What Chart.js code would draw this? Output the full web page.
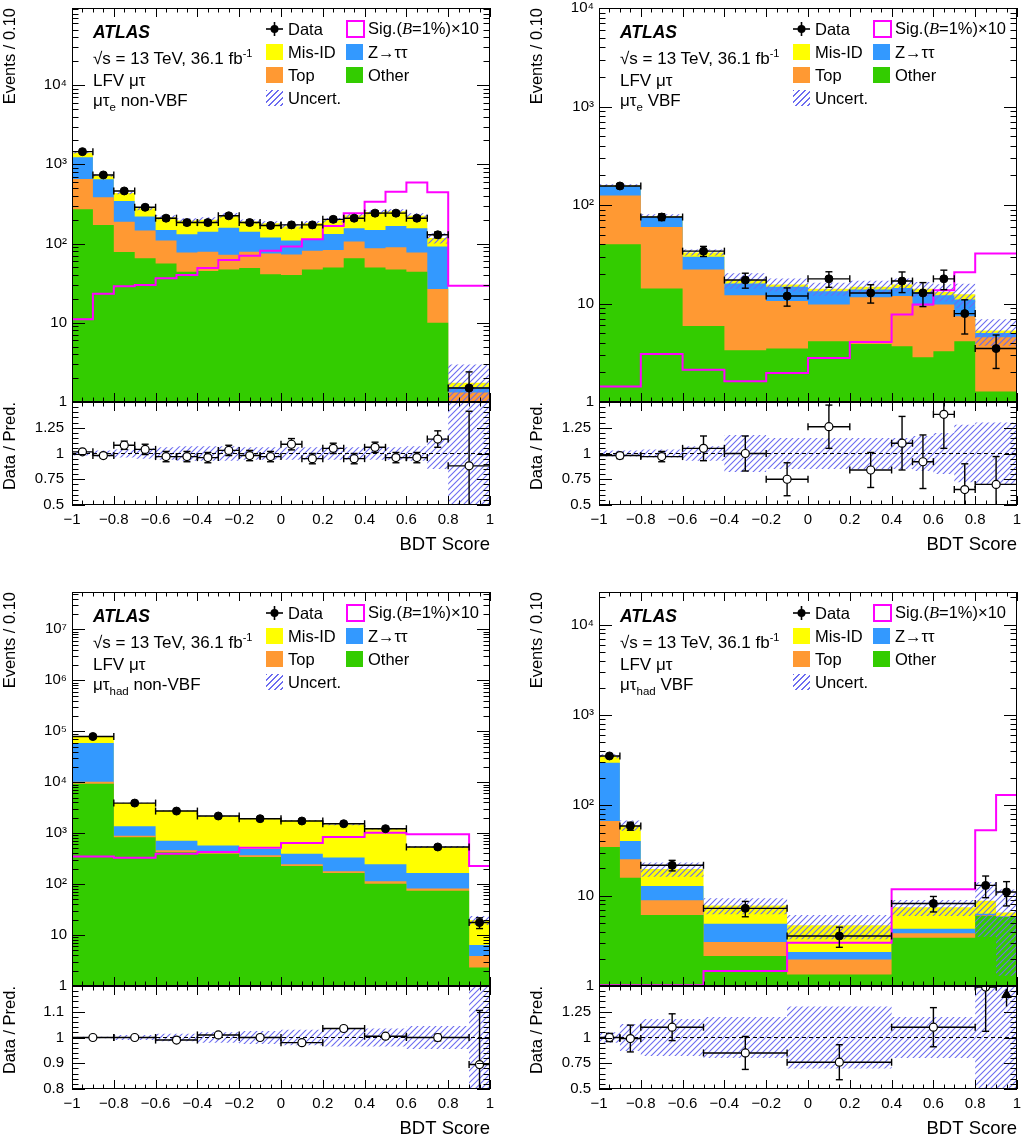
<!DOCTYPE html>
<html>
<head>
<meta charset="utf-8">
<script src="https://cdn.jsdelivr.net/npm/chart.js@4.4.0/dist/chart.umd.min.js"></script>
<style>
body { margin: 0; background: #fff; font-family: "Liberation Sans", Arial, Helvetica, sans-serif; }
#page { position: relative; width: 1021px; height: 1139px; overflow: hidden; background: #fff; }
canvas { position: absolute; }
.txt { position: absolute; white-space: nowrap; color: #000; line-height: 1; transform: translateY(-50%); font-size: 16.5px; }
.info { font-size: 17px; }
.atlas { font-weight: bold; font-style: italic; font-size: 17.5px; }
.sw { position: absolute; width: 17px; height: 16px; transform: translateY(-50%); box-sizing: border-box; }
sub { font-size: 11.5px; vertical-align: -5px; }
sup { font-size: 11px; vertical-align: 7px; }
</style>
</head>
<body>
<div id="page"></div>
<script>
// axes
const xTicks = [-1, -0.8, -0.6, -0.4, -0.2, 0, 0.2, 0.4, 0.6, 0.8, 1];
const decadeLabels = ['1', '10', '10²', '10³', '10⁴', '10⁵', '10⁶', '10⁷'];

// mu tau_e non-VBF
const edgesA = [-1,-0.9,-0.8,-0.7,-0.6,-0.5,-0.4,-0.3,-0.2,-0.1,0,0.1,0.2,0.3,0.4,0.5,0.6,0.7,0.8,1];
const otherA = [270,172,78,65,56,44,45,47,49,41,40,47,50,65,50,47,44,10,0.5];
const topA   = [383,213,111,81,53,33,34,25,30,34,33,34,33,41,37,43,33,16.6,0.82];
const zttA   = [577,265,155,73,39,54,62,86,62,44,36,30,49,50,61,77,79,65,0.21];
const misidA = [170,70,91,59,66,64,59,69,49,61,56,71,66,72,102,88,69,26,0.22];
const sigA   = [11.1,23.2,29,30,36.6,40,49,62,70,81,92,113,167,241,338,452,588,444,29.3];
const dataA  = [1445,734,461,287,209,184,184,224,184,169,172,172,202,209,242,242,209,129,1.5];
const dataErrA = [38,27,21,17,14,14,14,15,14,13,13,13,14,14,16,16,14,11,0.9];
const ratioA = [1.016,0.98,1.08,1.04,0.97,0.97,0.96,1.03,0.98,0.97,1.09,0.95,1.05,0.95,1.06,0.96,0.96,1.14,0.88];
const ratioErrA = [0.015,0.025,0.04,0.05,0.05,0.05,0.05,0.05,0.05,0.05,0.055,0.05,0.05,0.05,0.05,0.05,0.05,0.08,0.53];
const uncA = [0.02,0.03,0.04,0.05,0.06,0.07,0.07,0.07,0.06,0.06,0.06,0.06,0.06,0.06,0.06,0.06,0.07,0.15,0.7];
const yTicksA = [1, 10, 100, 1000, 10000];
const rTicksA = [0.5, 0.75, 1, 1.25];

// mu tau_e VBF
const edgesB = [-1,-0.8,-0.6,-0.4,-0.2,0,0.2,0.4,0.5,0.6,0.7,0.8,1];
const otherB = [40,14.2,5.9,3.35,3.49,4.14,3.89,3.68,2.85,3.27,4.14,1.28];
const topB   = [85,45.5,16.3,8.75,7.11,5.63,7.71,8.22,6.7,6.5,3.29,3.27];
const zttB   = [30,16.3,7.6,3.9,4.2,3.53,2.3,2.5,3.45,2.33,3.57,0.48];
const misidB = [3,1.5,3.2,1.2,0.8,0.8,0.9,1.2,1.1,1.0,1.4,0.28];
const sigB   = [1.44,3.08,2.13,1.62,1.97,2.8,4.07,7.73,9.77,13.6,20.8,32.2];
const dataB  = [156,75.5,34,17.3,11.9,17.8,12.8,16.9,12.8,17.8,7.9,3.49];
const dataErrB = [9,6,4,3,2.5,3.2,2.7,4,3.5,4,3,1.3];
const ratioB = [0.98,0.97,1.05,1.0,0.75,1.26,0.84,1.1,0.92,1.38,0.65,0.7];
const ratioErrB = [0.03,0.05,0.12,0.17,0.16,0.21,0.17,0.26,0.26,0.33,0.25,0.27];
const uncB = [0.03,0.04,0.07,0.18,0.15,0.15,0.15,0.15,0.17,0.2,0.28,0.3];
const yTicksB = [1, 10, 100, 1000, 10000];
const rTicksB = [0.5, 0.75, 1, 1.25];

// mu tau_had non-VBF
const edgesC = [-1,-0.8,-0.6,-0.4,-0.2,0,0.2,0.4,0.6,0.9,1];
const otherC = [9300,828,421,396,341,227,166,102,74,2.32];
const topC   = [880,62,39,31,26,18,13,12,8,1.55];
const zttC   = [48800,470,252,142,122,151,152,131,84,2.48];
const misidC = [19700,2530,2025,1580,1430,1365,1150,970,370,13.35];
const sigC   = [347,330,396,427,519,641,840,1020,947,227];
const dataC  = [78700,3890,2710,2170,1920,1730,1530,1222,535,17.6];
const dataErrC = [280,140,115,100,100,90,85,80,42,4.2];
const ratioC = [1.0,1.0,0.99,1.01,1.0,0.98,1.035,1.005,1.0,0.895];
const ratioErrC = [0.003,0.005,0.007,0.007,0.008,0.008,0.009,0.01,0.013,0.21];
const uncC = [0.003,0.01,0.015,0.02,0.025,0.03,0.035,0.035,0.045,0.2];
const yTicksC = [1, 10, 100, 1000, 1e4, 1e5, 1e6, 1e7];
const rTicksC = [0.8, 0.9, 1, 1.1];

// mu tau_had VBF
const edgesD = [-1,-0.9,-0.8,-0.5,-0.1,0.4,0.8,0.9,1];
const otherD = [34.6,15.8,6.1,2.15,1.34,3.43,6.0,5.8];
const topD   = [32.4,9.5,2.78,0.92,0.63,0.4,0.1,0.05];
const zttD   = [230,15,3.92,1.83,0.41,0.47,0.2,0.05];
const misidD = [53,19.7,6.9,2.9,2.32,3.15,2.5,0.6];
const sigD   = [1.02,1.02,1.02,1.47,3.02,11.8,53,130];
const dataD  = [352,59,21.7,7.24,3.58,8.2,13.0,11.0];
const dataErrD = [19,6,2.9,1.4,0.9,1.6,3.5,3.3];
const ratioD = [1.0,0.99,1.1,0.85,0.76,1.1,1.49,1.9];
const ratioErrD = [0.04,0.13,0.13,0.16,0.17,0.19,0.43,0];
const uncD = [0.05,0.13,0.18,0.2,0.3,0.2,0.6,0.8];
const yTicksD = [1, 10, 100, 1000, 10000];
const rTicksD = [0.5, 0.75, 1, 1.25];

const COL = { misid: '#ffff00', ztt: '#3399ff', top: '#ff9933', other: '#33cc00', sig: '#ff00ff', unc: '#6c6cf0' };

const panels = [
  { x: 0, y: 0, w: 500, edges: edgesA, other: otherA, top: topA, ztt: zttA, misid: misidA, sig: sigA, data: dataA, dataErr: dataErrA,
    ratio: ratioA, ratioErr: ratioErrA, unc: uncA, yMax: 9.4e4, yTicks: yTicksA, rMin: 0.5, rMax: 1.5, rTicks: rTicksA, rMajor: 0.25, rMinor: 0.05,
    label: 'μτ<sub>e</sub> non-VBF' },
  { x: 527, y: 0, w: 494, edges: edgesB, other: otherB, top: topB, ztt: zttB, misid: misidB, sig: sigB, data: dataB, dataErr: dataErrB,
    ratio: ratioB, ratioErr: ratioErrB, unc: uncB, yMax: 1e4, yTicks: yTicksB, rMin: 0.5, rMax: 1.5, rTicks: rTicksB, rMajor: 0.25, rMinor: 0.05,
    label: 'μτ<sub>e</sub> VBF' },
  { x: 0, y: 584, w: 500, edges: edgesC, other: otherC, top: topC, ztt: zttC, misid: misidC, sig: sigC, data: dataC, dataErr: dataErrC,
    ratio: ratioC, ratioErr: ratioErrC, unc: uncC, yMax: 5.4e7, yTicks: yTicksC, rMin: 0.8, rMax: 1.2, rTicks: rTicksC, rMajor: 0.1, rMinor: 0.02,
    label: 'μτ<sub>had</sub> non-VBF' },
  { x: 527, y: 584, w: 494, edges: edgesD, other: otherD, top: topD, ztt: zttD, misid: misidD, sig: sigD, data: dataD, dataErr: dataErrD,
    ratio: ratioD, ratioErr: ratioErrD, unc: uncD, yMax: 2.3e4, yTicks: yTicksD, rMin: 0.5, rMax: 1.5, rTicks: rTicksD, rMajor: 0.25, rMinor: 0.05,
    label: 'μτ<sub>had</sub> VBF' },
];

Chart.defaults.font.family = '"Liberation Sans", Arial, Helvetica, sans-serif';
Chart.defaults.color = '#000';

// helpers
function hatchPattern() {
  const c = document.createElement('canvas');
  c.width = c.height = 6;
  const g = c.getContext('2d');
  g.strokeStyle = COL.unc; g.lineWidth = 1.1;
  g.beginPath();
  g.moveTo(0, 6); g.lineTo(6, 0);
  g.moveTo(-1, 1); g.lineTo(1, -1);
  g.moveTo(5, 7); g.lineTo(7, 5);
  g.stroke();
  return g.createPattern(c, 'repeat');
}
const HATCH = hatchPattern();

function steps(edges, vals) {
  const pts = [];
  vals.forEach((v, i) => pts.push({ x: edges[i], y: v }, { x: edges[i + 1], y: v }));
  return pts;
}
function centers(edges) { return edges.slice(0, -1).map((e, i) => (e + edges[i + 1]) / 2); }
function cumulate(layers) {
  const out = []; let acc = layers[0].map(() => 0);
  layers.forEach(l => { acc = acc.map((a, i) => a + l[i]); out.push(acc); });
  return out;
}
function errBars(edges, vals, errs, keep) {
  const bars = [], caps = [], rot = [];
  vals.forEach((v, i) => {
    if (!keep(i)) return;
    const c = (edges[i] + edges[i + 1]) / 2;
    const lo = Math.max(v - errs[i], 1e-3), hi = v + errs[i];
    bars.push({ x: edges[i], y: v }, { x: edges[i + 1], y: v }, { x: c, y: null },
              { x: c, y: lo }, { x: c, y: hi }, { x: c, y: null });
    caps.push({ x: edges[i], y: v }, { x: edges[i + 1], y: v });
    rot.push(90, 90);
    if (errs[i] > 0) { caps.push({ x: c, y: lo }, { x: c, y: hi }); rot.push(0, 0); }
  });
  return { bars, caps, rot };
}
const base = d => Object.assign({ type: 'line', pointRadius: 0, borderColor: 'rgba(0,0,0,0)', borderWidth: 1, tension: 0, fill: false }, d);

// ROOT style frame with inner ticks on all sides
const rootFrame = {
  id: 'rootFrame',
  afterDatasetsDraw(chart, args, o) {
    const { ctx, chartArea: a, scales: { x, y } } = chart;
    ctx.save();
    ctx.strokeStyle = '#000'; ctx.lineWidth = 1;
    ctx.strokeRect(a.left + 0.5, a.top + 0.5, a.right - a.left - 1, a.bottom - a.top - 1);
    ctx.beginPath();
    for (let k = Math.round(x.min / 0.05); k * 0.05 <= x.max + 1e-9; k++) {
      const v = k * 0.05, px = Math.round(x.getPixelForValue(v)) + 0.5;
      const len = Math.abs(v / 0.2 - Math.round(v / 0.2)) < 1e-6 ? 9 : 4.5;
      ctx.moveTo(px, a.bottom); ctx.lineTo(px, a.bottom - len);
      ctx.moveTo(px, a.top); ctx.lineTo(px, a.top + len);
    }
    const yv = [];
    if (o.log) {
      for (let d = 0; Math.pow(10, d) <= y.max; d++)
        for (let m = 1; m < 10; m++) { const v = m * Math.pow(10, d); if (v <= y.max) yv.push([v, m === 1]); }
    } else {
      for (let k = Math.round(y.min / o.minor); k * o.minor <= y.max + 1e-9; k++) {
        const v = k * o.minor; yv.push([v, Math.abs(v / o.major - Math.round(v / o.major)) < 1e-6]);
      }
    }
    yv.forEach(([v, maj]) => {
      const py = Math.round(y.getPixelForValue(v)) + 0.5, len = maj ? 13 : 6.5;
      ctx.moveTo(a.left, py); ctx.lineTo(a.left + len, py);
      ctx.moveTo(a.right, py); ctx.lineTo(a.right - len, py);
    });
    ctx.stroke();
    ctx.restore();
  }
};

const fixW = w => s => { s.width = w; s.paddingTop = 0; s.paddingBottom = 0; };
const fixH = h => s => { s.height = h; s.paddingLeft = 0; s.paddingRight = 0; };
const xLabel = v => Math.abs(v) < 1e-9 ? '0' : String(+v.toFixed(1)).replace('-', '−');

const page = document.getElementById('page');
function makeCanvas(left, top, w, h) {
  const c = document.createElement('canvas');
  c.width = w; c.height = h; c.style.left = left + 'px'; c.style.top = top + 'px';
  c.style.width = w + 'px'; c.style.height = h + 'px';
  page.appendChild(c);
  return c;
}

function drawMain(p) {
  const [c1, c2, c3, total] = cumulate([p.other, p.top, p.ztt, p.misid]);
  const eb = errBars(p.edges, p.data, p.dataErr, () => true);
  const cen = centers(p.edges);
  const datasets = [
    { data: steps(p.edges, total), backgroundColor: COL.misid, fill: 'start', order: 9 },
    { data: steps(p.edges, c3), backgroundColor: COL.ztt, fill: 'start', order: 8 },
    { data: steps(p.edges, c2), backgroundColor: COL.top, fill: 'start', order: 7 },
    { data: steps(p.edges, c1), backgroundColor: COL.other, fill: 'start', order: 6 },
    { data: steps(p.edges, total.map((t, i) => t * (1 + p.unc[i]))), backgroundColor: HATCH, fill: '+1', order: 5 },
    { data: steps(p.edges, total.map((t, i) => Math.max(t * (1 - p.unc[i]), 1e-3))), order: 5 },
    { data: steps(p.edges, p.sig), borderColor: COL.sig, borderWidth: 2, order: 4 },
    { data: eb.bars, borderColor: '#000', borderWidth: 1.4, order: 2 },
    { data: eb.caps, showLine: false, pointStyle: 'line', pointRadius: 3.5, pointRotation: eb.rot, pointBorderColor: '#000', pointBorderWidth: 1.4, order: 1 },
    { data: cen.map((c, i) => ({ x: c, y: p.data[i] })), showLine: false, pointRadius: 4, pointBackgroundColor: '#000', pointBorderColor: '#000', order: 0 },
  ].map(base);
  new Chart(makeCanvas(p.x, p.y, p.w, 414), {
    type: 'line',
    data: { datasets },
    plugins: [rootFrame],
    options: {
      responsive: false, animation: false, events: [],
      layout: { autoPadding: false, padding: { top: 8, bottom: 12, left: 0, right: p.w - 72 - 418 } },
      plugins: { legend: { display: false }, tooltip: { enabled: false }, rootFrame: { log: true } },
      scales: {
        x: { type: 'linear', min: -1, max: 1, display: false },
        y: {
          type: 'logarithmic', min: 1, max: p.yMax,
          grid: { display: false, drawTicks: false }, border: { display: false },
          afterFit: fixW(72),
          afterBuildTicks: s => { s.ticks = p.yTicks.map(v => ({ value: v })); },
          ticks: { callback: v => decadeLabels[Math.round(Math.log10(v))], font: { size: 15 }, padding: 5, autoSkip: false },
          title: { display: true, text: 'Events / 0.10', align: 'end', font: { size: 16.5 }, padding: { top: 1, bottom: 0 } }
        }
      }
    }
  });
}

function drawRatio(p) {
  const cen = centers(p.edges);
  const inRange = i => p.ratio[i] <= p.rMax;
  const eb = errBars(p.edges, p.ratio, p.ratioErr, inRange);
  const arrows = [], heads = [];
  p.ratio.forEach((r, i) => {
    if (r > p.rMax) {
      arrows.push({ x: cen[i], y: p.rMax - 0.2 * (p.rMax - 1) / 0.5 }, { x: cen[i], y: p.rMax - 0.03 }, { x: cen[i], y: null });
      heads.push({ x: cen[i], y: p.rMax - 0.085 });
    }
  });
  const datasets = [
    { data: steps(p.edges, p.unc.map(u => 1 + u)), backgroundColor: HATCH, fill: '+1', order: 5 },
    { data: steps(p.edges, p.unc.map(u => 1 - u)), order: 5 },
    { data: [{ x: -1, y: 1 }, { x: 1, y: 1 }], borderColor: '#000', borderWidth: 1.2, borderDash: [4, 3], order: 4 },
    { data: eb.bars, borderColor: '#000', borderWidth: 1.4, order: 2 },
    { data: eb.caps, showLine: false, pointStyle: 'line', pointRadius: 3.5, pointRotation: eb.rot, pointBorderColor: '#000', pointBorderWidth: 1.4, order: 1 },
    { data: arrows, borderColor: '#000', borderWidth: 1.4, order: 2 },
    { data: heads, showLine: false, pointStyle: 'triangle', pointRadius: 5.5, pointBackgroundColor: '#000', pointBorderColor: '#000', order: 1 },
    { data: cen.map((c, i) => ({ x: c, y: p.ratio[i] })).filter((d, i) => inRange(i)), showLine: false, pointRadius: 4,
      pointBackgroundColor: '#fff', pointBorderColor: '#000', pointBorderWidth: 1.2, order: 0 },
  ].map(base);
  new Chart(makeCanvas(p.x, p.y + 392, p.w, 166), {
    type: 'line',
    data: { datasets },
    plugins: [rootFrame],
    options: {
      responsive: false, animation: false, events: [],
      layout: { autoPadding: false, padding: { top: 10, bottom: 0, left: 0, right: p.w - 72 - 418 } },
      plugins: { legend: { display: false }, tooltip: { enabled: false }, rootFrame: { log: false, major: p.rMajor, minor: p.rMinor } },
      scales: {
        x: {
          type: 'linear', min: -1, max: 1,
          grid: { display: false, drawTicks: false }, border: { display: false },
          afterFit: fixH(53),
          afterBuildTicks: s => { s.ticks = xTicks.map(v => ({ value: v })); },
          ticks: { callback: xLabel, font: { size: 15 }, padding: 6, autoSkip: false, maxRotation: 0 },
          title: { display: true, text: 'BDT Score', align: 'end', font: { size: 18.5 }, padding: { top: 0, bottom: 2 } }
        },
        y: {
          type: 'linear', min: p.rMin, max: p.rMax,
          grid: { display: false, drawTicks: false }, border: { display: false },
          afterFit: fixW(72),
          afterBuildTicks: s => { s.ticks = p.rTicks.map(v => ({ value: v })); },
          ticks: { callback: v => String(v), font: { size: 15 }, padding: 8, autoSkip: false },
          title: { display: true, text: 'Data / Pred.', align: 'end', font: { size: 16.5 }, padding: { top: 1, bottom: 0 } }
        }
      }
    }
  });
}

function addDiv(cls, html, left, top, style) {
  const d = document.createElement('div');
  d.className = cls; d.innerHTML = html || '';
  d.style.left = left + 'px'; d.style.top = top + 'px';
  if (style) Object.assign(d.style, style);
  page.appendChild(d);
  return d;
}

function drawLabels(p) {
  const X = p.x, Y = p.y;
  addDiv('txt atlas', 'ATLAS', X + 93, Y + 33);
  addDiv('txt info', '√s = 13 TeV, 36.1 fb<sup>-1</sup>', X + 93, Y + 57);
  addDiv('txt info', 'LFV μτ', X + 93, Y + 80);
  addDiv('txt info', p.label, X + 93, Y + 103);

  const rows = [29, 52, 75, 98], cols = [266, 346];
  const items = [
    ['data', 'Data', 0, 0], ['sig', 'Sig.(<i style="font-family:\'Liberation Serif\',serif">B</i>=1%)×10', 1, 0],
    ['misid', 'Mis-ID', 0, 1], ['ztt', 'Z→ττ', 1, 1],
    ['top', 'Top', 0, 2], ['other', 'Other', 1, 2],
    ['unc', 'Uncert.', 0, 3],
  ];
  items.forEach(([k, text, c, r]) => {
    const sx = X + cols[c], sy = Y + rows[r];
    let st = {};
    if (k === 'data') {
      addDiv('sw', '<svg width="17" height="16"><line x1="0" y1="8" x2="17" y2="8" stroke="#000" stroke-width="1.6"/>' +
        '<line x1="8.5" y1="1" x2="8.5" y2="15" stroke="#000" stroke-width="1.6"/><circle cx="8.5" cy="8" r="4" fill="#000"/></svg>', sx, sy);
    } else {
      if (k === 'sig') st = { border: '2px solid ' + COL.sig, background: '#fff', width: '19px', height: '18px' };
      else if (k === 'unc') st = { background: 'repeating-linear-gradient(135deg, ' + COL.unc + ' 0 1.2px, transparent 1.2px 4.2px)' };
      else st = { background: COL[k] };
      addDiv('sw', '', sx, sy, st);
    }
    addDiv('txt', text, sx + 22, sy);
  });
}

panels.forEach(p => { drawMain(p); drawRatio(p); drawLabels(p); });
</script>
</body>
</html>
